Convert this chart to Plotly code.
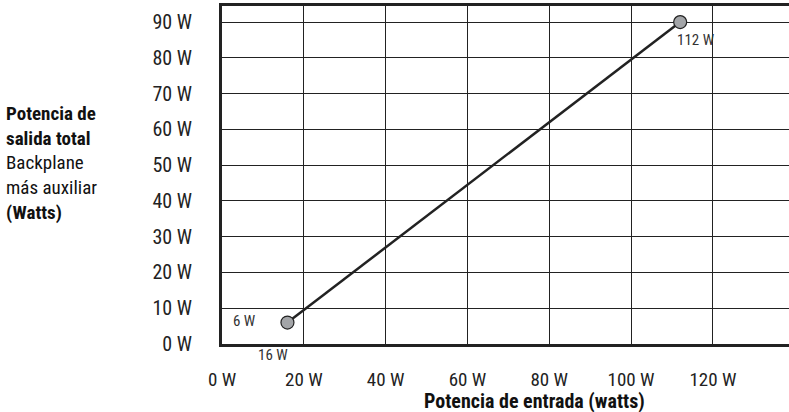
import plotly.graph_objects as go

# Data
x_input_w = [16, 112]          # Potencia de entrada (W)
y_output_w = [6, 90]           # Potencia de salida total (W)
x_ticks = [0, 20, 40, 60, 80, 100, 120]
x_tick_labels = ["0 W", "20 W", "40 W", "60 W", "80 W", "100 W", "120 W"]
y_ticks = [0, 10, 20, 30, 40, 50, 60, 70, 80, 90]
y_tick_labels = ["0 W", "10 W", "20 W", "30 W", "40 W", "50 W", "60 W", "70 W", "80 W", "90 W"]

FONT = "Liberation Sans Narrow, Roboto Condensed, Roboto, Arial, sans-serif"
DARK = "#222222"

fig = go.Figure()

fig.add_trace(go.Scatter(
    x=x_input_w, y=y_output_w, mode="lines",
    line=dict(color=DARK, width=2.5), hoverinfo="skip", showlegend=False,
))
fig.add_trace(go.Scatter(
    x=x_input_w, y=y_output_w, mode="markers",
    marker=dict(size=13, color="#a3a5a8", line=dict(color=DARK, width=1.2)),
    showlegend=False,
))

# point annotations
fig.add_annotation(x=x_input_w[0], y=y_output_w[0], text=f"{y_output_w[0]} W",
                   showarrow=False, xanchor="right", yanchor="middle", xshift=-29, yshift=2,
                   font=dict(family=FONT, size=15, color="#333"))
fig.add_annotation(x=x_input_w[0], y=0, text=f"{x_input_w[0]} W",
                   showarrow=False, xanchor="center", yanchor="top", yshift=0, xshift=-14,
                   font=dict(family=FONT, size=15, color="#333"))
fig.add_annotation(x=x_input_w[1], y=y_output_w[1], text=f"{x_input_w[1]} W",
                   showarrow=False, xanchor="left", yanchor="middle", xshift=-5, yshift=-18,
                   font=dict(family=FONT, size=15, color="#333"))

# y axis title (left block)
fig.add_annotation(
    xref="paper", yref="paper", x=-218 / 567, y=(344 - 100) / 338,
    xanchor="left", yanchor="top", align="left", showarrow=False,
    text="<b>Potencia de</b><br><b>salida total</b><br>Backplane<br>más auxiliar<br><b>(Watts)</b>",
    font=dict(family=FONT, size=19, color="#111"),
)
# x axis title
fig.add_annotation(
    xref="paper", yref="paper", x=(534 - 222) / 567, y=-(401 - 344) / 338,
    xanchor="center", yanchor="middle", showarrow=False,
    text="<b>Potencia de entrada (watts)</b>",
    font=dict(family=FONT, size=20, color="#111"),
)

fig.update_xaxes(
    range=[0, 138.6], tickvals=x_ticks, ticktext=x_tick_labels,
    showgrid=True, gridcolor=DARK, gridwidth=1.3,
    showline=True, linecolor=DARK, linewidth=3, mirror=True,
    ticks="", ticklabelstandoff=16, zeroline=False, automargin=False,
    tickfont=dict(family=FONT, size=19, color="#222"),
)
fig.update_yaxes(
    range=[0, 94.5], tickvals=y_ticks, ticktext=y_tick_labels,
    showgrid=True, gridcolor=DARK, gridwidth=1.3,
    showline=True, linecolor=DARK, linewidth=3, mirror=False,
    ticks="", ticklabelstandoff=23, zeroline=False, automargin=False,
    tickfont=dict(family=FONT, size=20, color="#222"),
)

fig.update_layout(
    width=789, height=412,
    margin=dict(l=222, r=0, t=6, b=68),
    plot_bgcolor="white", paper_bgcolor="white",
    showlegend=False,
)

fig.write_html(
    "out.html",
    config={"displayModeBar": False},
    post_script="document.body.style.margin='0';document.body.style.padding='0';",
)
